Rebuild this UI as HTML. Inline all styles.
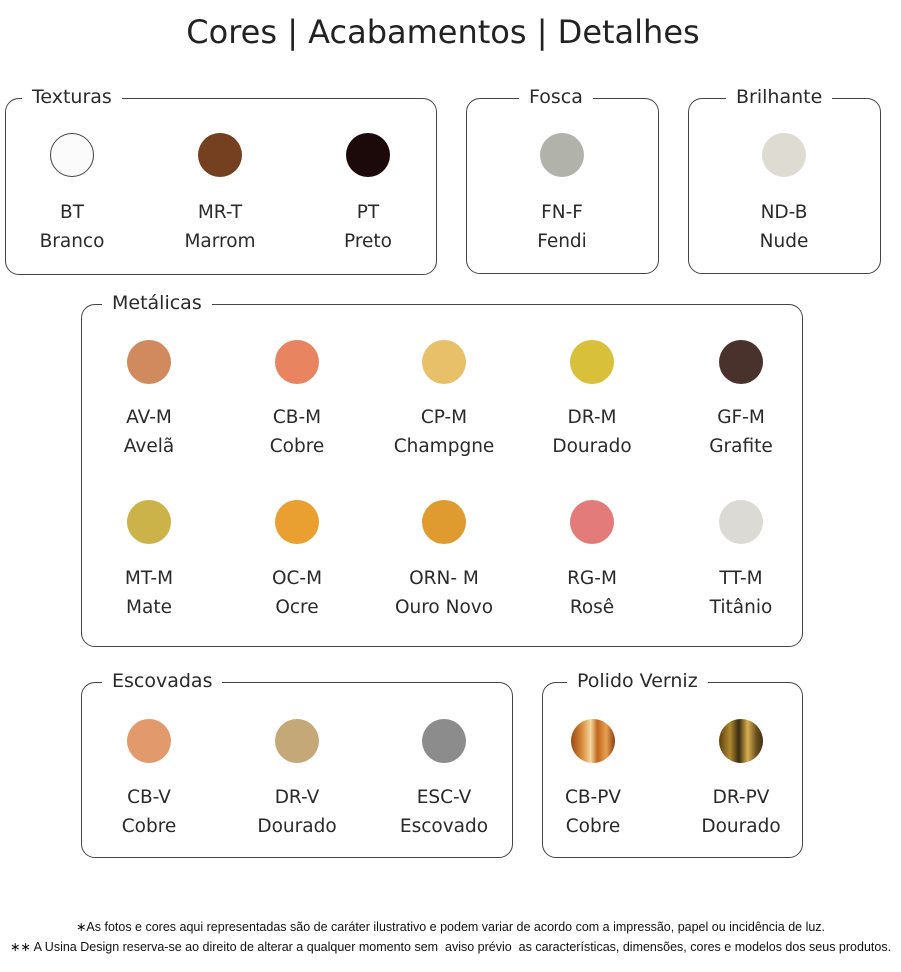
<!DOCTYPE html>
<html><head><meta charset="utf-8"><style>
body{margin:0;width:901px;height:972px;background:#fff;position:relative;font-family:"DejaVu Sans","Liberation Sans",sans-serif;color:#2a2a2a;overflow:hidden}
.t{position:absolute;left:0;width:886px;top:13px;text-align:center;font-size:32px;color:#222}
.b{position:absolute;border:1.8px solid #444;border-radius:14px;box-sizing:border-box}
.l{position:absolute;background:#fff;font-size:19px;padding:0 10px;line-height:24px;color:#2a2a2a}
.c{position:absolute;width:44px;height:44px;border-radius:50%;transform:translate(-22px,-22px)}
.x{position:absolute;width:150px;transform:translateX(-75px);text-align:center;font-size:18.5px;line-height:29px;color:#2a2a2a}
.f{position:absolute;left:0;width:901px;text-align:center;font-family:"Liberation Sans",sans-serif;font-size:12.5px;color:#111}
</style></head><body>
<div class="t">Cores | Acabamentos | Detalhes</div>

<div class="b" style="left:5px;top:98px;width:432px;height:177px"></div>
<div class="l" style="left:22px;top:85px">Texturas</div>
<div class="b" style="left:466px;top:98px;width:193px;height:176px"></div>
<div class="l" style="left:519px;top:85px">Fosca</div>
<div class="b" style="left:688px;top:98px;width:193px;height:176px"></div>
<div class="l" style="left:726px;top:85px">Brilhante</div>
<div class="b" style="left:81px;top:304px;width:722px;height:343px"></div>
<div class="l" style="left:102px;top:291px">Metálicas</div>
<div class="b" style="left:81px;top:682px;width:432px;height:176px"></div>
<div class="l" style="left:102px;top:669px">Escovadas</div>
<div class="b" style="left:542px;top:682px;width:261px;height:176px"></div>
<div class="l" style="left:567px;top:669px">Polido Verniz</div>

<div class="c" style="left:72px;top:155px;background:#fbfbfb;border:1.3px solid #444;box-sizing:border-box"></div>
<div class="c" style="left:220px;top:155px;background:#74401f"></div>
<div class="c" style="left:368px;top:155px;background:#1c0a0a"></div>
<div class="c" style="left:562px;top:155px;background:#b1b2a9"></div>
<div class="c" style="left:784px;top:155px;background:#dedbd3"></div>
<div class="x" style="left:72px;top:198px">BT<br>Branco</div>
<div class="x" style="left:220px;top:198px">MR-T<br>Marrom</div>
<div class="x" style="left:368px;top:198px">PT<br>Preto</div>
<div class="x" style="left:562px;top:198px">FN-F<br>Fendi</div>
<div class="x" style="left:784px;top:198px">ND-B<br>Nude</div>

<div class="c" style="left:149px;top:362px;background:#d08a5e"></div>
<div class="c" style="left:297px;top:362px;background:#e88460"></div>
<div class="c" style="left:444px;top:362px;background:#e8c06a"></div>
<div class="c" style="left:592px;top:362px;background:#d8c03a"></div>
<div class="c" style="left:741px;top:362px;background:#4a322c"></div>
<div class="x" style="left:149px;top:403px">AV-M<br>Avelã</div>
<div class="x" style="left:297px;top:403px">CB-M<br>Cobre</div>
<div class="x" style="left:444px;top:403px">CP-M<br>Champgne</div>
<div class="x" style="left:592px;top:403px">DR-M<br>Dourado</div>
<div class="x" style="left:741px;top:403px">GF-M<br>Grafite</div>

<div class="c" style="left:149px;top:522px;background:#cbb34a"></div>
<div class="c" style="left:297px;top:522px;background:#eaa030"></div>
<div class="c" style="left:444px;top:522px;background:#e09b30"></div>
<div class="c" style="left:592px;top:522px;background:#e47b7b"></div>
<div class="c" style="left:741px;top:522px;background:#dcdad4"></div>
<div class="x" style="left:149px;top:564px">MT-M<br>Mate</div>
<div class="x" style="left:297px;top:564px">OC-M<br>Ocre</div>
<div class="x" style="left:444px;top:564px">ORN- M<br>Ouro Novo</div>
<div class="x" style="left:592px;top:564px">RG-M<br>Rosê</div>
<div class="x" style="left:741px;top:564px">TT-M<br>Titânio</div>

<div class="c" style="left:149px;top:741px;background:#e29a6c"></div>
<div class="c" style="left:297px;top:741px;background:#c4a877"></div>
<div class="c" style="left:444px;top:741px;background:#8c8c8c"></div>
<div class="c" style="left:593px;top:741px;background:linear-gradient(90deg,#9a4a10,#d98a3a 25%,#f4d8a0 45%,#c0661c 60%,#e8a050 80%,#8a4010)"></div>
<div class="c" style="left:741px;top:741px;background:linear-gradient(90deg,#5a4010,#b08a30 25%,#3a2a10 45%,#d8b050 65%,#6a5020 85%,#403010)"></div>
<div class="x" style="left:149px;top:783px">CB-V<br>Cobre</div>
<div class="x" style="left:297px;top:783px">DR-V<br>Dourado</div>
<div class="x" style="left:444px;top:783px">ESC-V<br>Escovado</div>
<div class="x" style="left:593px;top:783px">CB-PV<br>Cobre</div>
<div class="x" style="left:741px;top:783px">DR-PV<br>Dourado</div>

<div class="f" style="top:919px">∗As fotos e cores aqui representadas são de caráter ilustrativo e podem variar de acordo com a impressão, papel ou incidência de luz.</div>
<div class="f" style="top:939px">∗∗ A Usina Design reserva-se ao direito de alterar a qualquer momento sem &nbsp;aviso prévio &nbsp;as características, dimensões, cores e modelos dos seus produtos.</div>
</body></html>
